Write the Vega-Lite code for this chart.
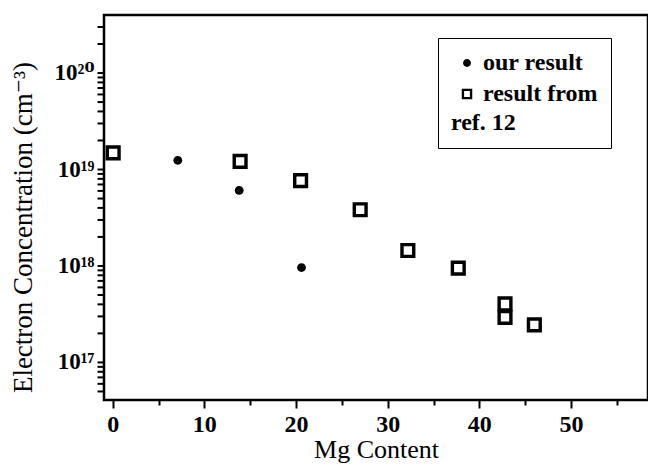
{
  "$schema": "https://vega.github.io/schema/vega-lite/v6.json",
  "width": 544,
  "height": 385,
  "autosize": {"type": "none"},
  "padding": {"left": 104, "top": 15, "right": 0, "bottom": 76},
  "background": "white",
  "config": {"view": {"stroke": "black", "strokeWidth": 2.5}, "font": "Liberation Serif"},
  "data": {
    "values": [
      {"series": "our result", "mg": 7.1, "n": 1.23e19},
      {"series": "our result", "mg": 13.8, "n": 6.0e18},
      {"series": "our result", "mg": 20.6, "n": 9.5e17},
      {"series": "result from ref. 12", "mg": 0.05, "n": 1.47e19},
      {"series": "result from ref. 12", "mg": 13.9, "n": 1.2e19},
      {"series": "result from ref. 12", "mg": 20.5, "n": 7.57e18},
      {"series": "result from ref. 12", "mg": 27.0, "n": 3.78e18},
      {"series": "result from ref. 12", "mg": 32.2, "n": 1.43e18},
      {"series": "result from ref. 12", "mg": 37.7, "n": 9.37e17},
      {"series": "result from ref. 12", "mg": 42.8, "n": 3.99e17},
      {"series": "result from ref. 12", "mg": 42.8, "n": 2.9e17},
      {"series": "result from ref. 12", "mg": 46.0, "n": 2.42e17}
    ]
  },
  "mark": {"type": "point", "filled": true, "fill": "black", "strokeWidth": 0, "opacity": 1},
  "encoding": {
    "x": {
      "field": "mg", "type": "quantitative",
      "scale": {"domain": [-0.95, 58.4], "nice": false, "zero": false},
      "axis": {
        "title": "Mg Content",
        "values": [0, 5, 10, 15, 20, 25, 30, 35, 40, 45, 50, 55],
        "labelExpr": "datum.value % 10 == 0 ? datum.label : ''",
        "domain": false, "grid": false,
        "tickColor": "black", "tickWidth": 2,
        "tickSize": {"condition": {"test": "datum.value % 10 == 0", "value": 8}, "value": 5},
        "labelFont": "Liberation Serif", "labelFontSize": 24, "labelFontWeight": "bold", "labelColor": "black",
        "labelPadding": 4, "labelOverlap": false, "labelFlush": false,
        "titleFont": "Liberation Serif", "titleFontSize": 26, "titleFontWeight": "normal", "titleColor": "black",
        "titlePadding": 0
      }
    },
    "y": {
      "field": "n", "type": "quantitative",
      "scale": {"type": "log", "domain": [4.03e16, 3.95e20], "nice": false},
      "axis": {
        "title": "Electron Concentration (cm⁻³)",
        "values": [5e16, 6e16, 7e16, 8e16, 9e16, 1e17, 2e17, 3e17, 4e17, 5e17, 6e17, 7e17, 8e17, 9e17, 1e18, 2e18, 3e18, 4e18, 5e18, 6e18, 7e18, 8e18, 9e18, 1e19, 2e19, 3e19, 4e19, 5e19, 6e19, 7e19, 8e19, 9e19, 1e20, 2e20, 3e20],
        "labelExpr": "datum.value == 1e17 ? '10¹⁷' : datum.value == 1e18 ? '10¹⁸' : datum.value == 1e19 ? '10¹⁹' : datum.value == 1e20 ? '10²⁰' : ''",
        "domain": false, "grid": false, "zindex": 2,
        "ticks": true, "tickColor": "black", "tickWidth": 2, "tickOpacity": 1, "tickRound": false, "tickCap": "butt", "tickDash": [],
        "tickSize": 7,
        "labelFont": "Liberation Serif, DejaVu Serif", "labelFontSize": 23, "labelFontWeight": "bold", "labelColor": "black",
        "labelPadding": 3, "labelOverlap": false, "labelFlush": false,
        "titleFont": "Liberation Serif, DejaVu Serif", "titleFontSize": 27, "titleFontWeight": "normal", "titleColor": "black",
        "titleAngle": -90, "titleX": -73, "titleY": 212, "titleBaseline": "alphabetic"
      }
    },
    "shape": {
      "field": "series", "type": "nominal",
      "scale": {"domain": ["our result", "result from ref. 12"], "range": ["M0.75,0A0.75,0.75 0 1,1 -0.75,0A0.75,0.75 0 1,1 0.75,0Z", "M-1,-1L1,-1L1,1L-1,1Z M-0.55,-0.55L-0.55,0.55L0.55,0.55L0.55,-0.55Z"]},
      "legend": {
        "orient": "none", "legendX": 334, "legendY": 23,
        "title": "ref. 12", "titleOrient": "bottom", "titleAnchor": "start",
        "titleFont": "Liberation Serif", "titleFontSize": 24, "titleFontWeight": "bold", "titleColor": "black", "titlePadding": 5,
        "labelFont": "Liberation Serif", "labelFontSize": 24, "labelFontWeight": "bold", "labelColor": "black", "labelLimit": 400,
        "labelExpr": "datum.value == 'our result' ? 'our result' : 'result from'",
        "labelOffset": 4, "symbolOffset": 4,
        "strokeColor": "black", "fillColor": "white", "padding": 13, "rowPadding": 7,
        "symbolFillColor": "black", "symbolStrokeWidth": 0, "symbolSize": 110, "symbolOpacity": 1
      }
    },
    "size": {"condition": {"test": "datum.series == 'our result'", "value": 140}, "value": 230}
  }
}
